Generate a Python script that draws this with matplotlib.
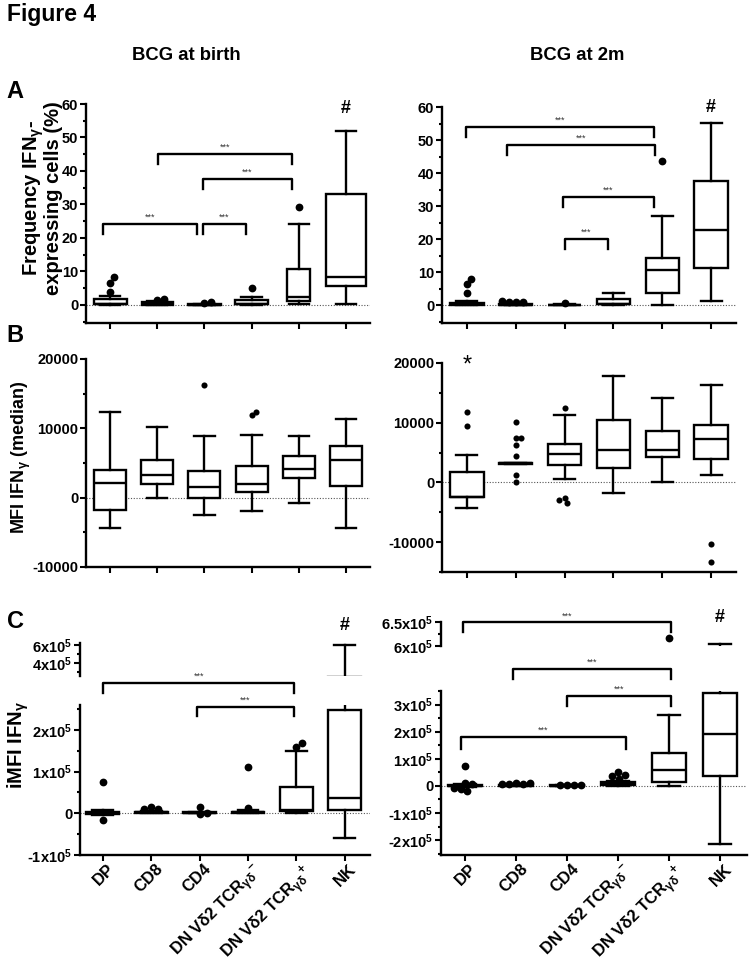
import numpy as np
import matplotlib
matplotlib.use("Agg")
import matplotlib.pyplot as plt
from matplotlib.ticker import MultipleLocator, FixedLocator, FuncFormatter
from matplotlib.transforms import ScaledTranslation

plt.rcParams['font.family'] = ['Liberation Sans', 'DejaVu Sans']
plt.rcParams['font.weight'] = 'bold'
plt.rcParams['axes.unicode_minus'] = False
plt.rcParams['mathtext.fontset'] = 'custom'
plt.rcParams['mathtext.rm'] = 'Liberation Sans:bold'
plt.rcParams['mathtext.it'] = 'Liberation Sans:italic:bold'
plt.rcParams['mathtext.bf'] = 'Liberation Sans:bold'
plt.rcParams['mathtext.sf'] = 'Liberation Sans:bold'
plt.rcParams['mathtext.default'] = 'regular'

cell_labels = ['DP', 'CD8', 'CD4',
               r'DN V$\delta$2 TCR$_{\gamma\delta}{}^{-}$',
               r'DN V$\delta$2 TCR$_{\gamma\delta}{}^{+}$', 'NK']

# box summaries per cell type: whisker low, Q1, median, Q3, whisker high
# A: frequency of IFN-gamma expressing cells (%)
freq_birth = [[0.0, 0.2, 0.2, 1.7, 2.6],
              [0.0, 0.1, 0.4, 0.8, 1.2],
              [0.0, 0.0, 0.1, 0.2, 0.3],
              [0.0, 0.2, 0.2, 1.6, 2.3],
              [0.2, 1.3, 2.5, 10.7, 24.3],
              [0.3, 5.7, 8.3, 33.2, 52.0]]
freq_birth_out = [[3.8, 6.5, 8.3], [1.5, 1.8], [0.5, 0.8], [5.1], [29.2], []]
freq_2m = [[0.0, 0.1, 0.3, 0.8, 1.4],
           [0.0, 0.0, 0.2, 0.5, 0.7],
           [0.0, 0.0, 0.1, 0.2, 0.3],
           [0.1, 0.5, 0.5, 1.9, 3.6],
           [0.0, 3.8, 10.5, 14.4, 27.1],
           [1.2, 11.2, 22.8, 37.6, 55.3]]
freq_2m_out = [[3.8, 6.4, 8.0], [0.9, 1.0, 1.1, 1.2], [0.7], [], [43.8], []]

# B: MFI IFN-gamma (median)
mfi_birth = [[-4400, -1800, 2100, 4000, 12400],
             [0, 1900, 3200, 5500, 10200],
             [-2500, 0, 1600, 3800, 8900],
             [-1900, 800, 2000, 4600, 9100],
             [-700, 2900, 4200, 6000, 8900],
             [-4400, 1700, 5400, 7400, 11400]]
mfi_birth_out = [[], [], [16200], [11900, 12300], [], []]
mfi_2m = [[-4300, -2500, -2500, 1800, 4600],
          [3100, 3100, 3200, 3300, 3300],
          [600, 3000, 4700, 6500, 11300],
          [-1800, 2500, 5500, 10400, 17800],
          [0, 4300, 5500, 8600, 14100],
          [1300, 3900, 7300, 9700, 16300]]
mfi_2m_out = [[9400, 11800], [10200, 7500, 7500, 6200, 4400, 1300, 0],
              [12400, -2600, -3400, -2900], [], [], [-10300, -13400]]

# C: iMFI IFN-gamma
imfi_birth = [[-5000, -2000, 1000, 4000, 7000],
              [0, 1000, 2000, 4000, 6000],
              [500, 1000, 1500, 2000, 2500],
              [0, 1000, 2000, 4000, 7000],
              [0, 5000, 9000, 62000, 149000],
              [-60000, 7000, 37000, 249000, 595000]]
imfi_birth_out = [[75000, -17000], [16000, 10000, 11000], [16000, -1000, 0],
                  [112000, 13000], [160000, 170000], []]
imfi_2m = [[-5000, -2000, 0, 3000, 6000],
           [0, 1000, 2000, 4000, 6000],
           [0, 500, 1000, 1500, 2000],
           [0, 3000, 8000, 13000, 18000],
           [0, 14000, 58000, 121000, 263000],
           [-213000, 35000, 191000, 343000, 605000]]
imfi_2m_out = [[75000, 10000, 8000, -10000, -18000, -8000],
               [9000, 8000, 7000, 8500, 10000],
               [3000, 3500, 2500, 3000],
               [50000, 41000, 35000, 24000],
               [617000], []]

# significance brackets: (x left, x right, height, leg length)
br_freq_birth = [(-0.15, 1.84, 24.1, 2.9), (1.97, 2.88, 24.1, 2.9),
                 (1.97, 3.86, 37.6, 2.9), (1.02, 3.86, 45.0, 2.9)]
br_freq_2m = [(-0.02, 3.83, 54.0, 3.0), (0.82, 3.85, 48.6, 3.0),
              (1.97, 3.83, 32.8, 3.0), (2.0, 2.89, 20.0, 3.0)]
br_imfi_birth = [(0.0, 3.96, 314000, 24000), (1.94, 3.96, 255000, 22000)]
br_imfi_2m = [(-0.04, 4.04, 603000, 36000), (0.94, 4.04, 432000, 39000),
              (2.0, 4.04, 333000, 39000), (-0.08, 3.16, 181000, 44000)]

W, H = 756, 966
fig = plt.figure(figsize=(W / 100, H / 100), dpi=100)
LW = 1.7


def add_axes(x0, y0, x1, y1, xlim, ylim):
    ax = fig.add_axes([x0 / W, 1 - y1 / H, (x1 - x0) / W, (y1 - y0) / H])
    ax.patch.set_alpha(0)
    for s in ('top', 'right'):
        ax.spines[s].set_visible(False)
    for s in ('left', 'bottom'):
        ax.spines[s].set_linewidth(LW)
    ax.tick_params(which='both', direction='out', width=1.5, labelsize=10.5, pad=1.5)
    ax.tick_params(which='major', length=4)
    ax.tick_params(which='minor', length=2.2)
    ax.set_xlim(*xlim)
    ax.set_ylim(*ylim)
    ax.set_xticks(range(6))
    return ax


def swarm(ax, x0, vals, d):
    # beeswarm: push overlapping dots sideways (d = dot diameter in px)
    ux = ax.transData.transform((x0 + 1, 0))[0] - ax.transData.transform((x0, 0))[0]
    placed, xs = [], []
    for v in vals:
        y = ax.transData.transform((x0, v))[1]
        cands = [0.0]
        for a, b in placed:
            dy = abs(y - b)
            if dy < d:
                dx = np.sqrt(d * d - dy * dy)
                cands += [a + dx, a - dx]
        cands.sort(key=abs)
        for c in cands:
            if all((c - a) ** 2 + (y - b) ** 2 >= d * d - 1e-6 for a, b in placed):
                break
        placed.append((c, y))
        xs.append(x0 + c / ux)
    return xs


def draw_boxes(ax, summary, outliers, widths=0.68, dot=5.6):
    stats = [dict(whislo=s[0], q1=s[1], med=s[2], q3=s[3], whishi=s[4], fliers=[])
             for s in summary]
    ax.bxp(stats, positions=range(len(stats)), widths=widths, capwidths=0.43,
           patch_artist=True, showfliers=False, manage_ticks=False,
           boxprops=dict(facecolor='white', edgecolor='black', linewidth=LW),
           medianprops=dict(color='black', linewidth=LW),
           whiskerprops=dict(color='black', linewidth=LW),
           capprops=dict(color='black', linewidth=LW))
    ax.axhline(0, color='#555555', lw=0.8, ls=(0, (1, 1.5)), zorder=0.5)
    for i, vals in enumerate(outliers):
        if vals:
            xs = swarm(ax, i, vals, 0.9 * dot * 100 / 72)
            ax.plot(xs, vals, 'o', color='black', ms=dot, mew=0, zorder=4)


def draw_brackets(ax, brackets):
    for x1, x2, y, leg in brackets:
        ax.plot([x1, x1, x2, x2], [y - leg, y, y, y - leg], color='black', lw=LW,
                clip_on=False, zorder=5)
        ax.annotate('***', xy=((x1 + x2) / 2, y), xytext=(0, 1.5),
                    textcoords='offset points', ha='center', va='bottom',
                    fontsize=6.5, fontweight='normal', color='#333333',
                    annotation_clip=False)


def sci(v, pos=None):
    return '0' if v == 0 else f'{v / 1e5:g}x10$^5$'


def hide_x_labels(ax):
    ax.tick_params(axis='x', labelbottom=False)


def cell_ticklabels(ax):
    ax.set_xticklabels(cell_labels, rotation=45, ha='right', va='top',
                       rotation_mode='anchor', fontsize=12)
    ax.tick_params(axis='x', pad=0.5)
    shift = ScaledTranslation(4 / 100, 0, fig.dpi_scale_trans)
    for lab in ax.get_xticklabels():
        lab.set_transform(lab.get_transform() + shift)


# ---- A: frequency ----
ax = add_axes(86, 104, 370, 323, (-0.51, 5.51), (-5.4, 60))
ax.yaxis.set_major_locator(MultipleLocator(10))
ax.yaxis.set_minor_locator(MultipleLocator(5))
draw_boxes(ax, freq_birth, freq_birth_out, widths=[0.7, 0.66, 0.7, 0.7, 0.48, 0.83])
draw_brackets(ax, br_freq_birth)
hide_x_labels(ax)
ax.text(5, 57.3, '#', ha='center', va='baseline', fontsize=13)

ax = add_axes(442, 107, 736, 323, (-0.51, 5.51), (-5.4, 60))
ax.yaxis.set_major_locator(MultipleLocator(10))
ax.yaxis.set_minor_locator(MultipleLocator(5))
draw_boxes(ax, freq_2m, freq_2m_out)
draw_brackets(ax, br_freq_2m)
hide_x_labels(ax)
ax.text(5, 58.5, '#', ha='center', va='baseline', fontsize=13)

# ---- B: MFI ----
ax = add_axes(86, 359, 370, 567, (-0.51, 5.51), (-10000, 20000))
ax.yaxis.set_major_locator(MultipleLocator(10000))
ax.yaxis.set_minor_locator(MultipleLocator(5000))
draw_boxes(ax, mfi_birth, mfi_birth_out, dot=4.4)
hide_x_labels(ax)

ax = add_axes(442, 363, 736, 572, (-0.51, 5.51), (-15000, 20000))
ax.yaxis.set_major_locator(MultipleLocator(10000))
ax.yaxis.set_minor_locator(MultipleLocator(5000))
draw_boxes(ax, mfi_2m, mfi_2m_out, dot=4.4)
hide_x_labels(ax)
ax.text(0, 18600, '*', ha='center', va='baseline', fontsize=17, fontweight='normal')

# ---- C: iMFI, broken y axes ----
ax = add_axes(80, 643, 370, 676, (-0.47, 5.52), (260000, 620000))
ax.spines['bottom'].set_visible(False)
ax.tick_params(axis='x', bottom=False, labelbottom=False)
ax.yaxis.set_major_locator(FixedLocator([400000, 600000]))
ax.yaxis.set_minor_locator(FixedLocator([300000, 500000]))
ax.yaxis.set_major_formatter(FuncFormatter(sci))
draw_boxes(ax, imfi_birth, imfi_birth_out)

ax = add_axes(80, 705, 370, 855, (-0.47, 5.52), (-100000, 260000))
ax.yaxis.set_major_locator(MultipleLocator(100000))
ax.yaxis.set_minor_locator(MultipleLocator(50000))
ax.yaxis.set_major_formatter(FuncFormatter(sci))
draw_boxes(ax, imfi_birth, imfi_birth_out)
draw_brackets(ax, br_imfi_birth)
cell_ticklabels(ax)
ax.text(5, 439000, '#', ha='center', va='baseline', fontsize=13)

ax = add_axes(441, 622, 747, 646, (-0.47, 5.53), (600000, 650000))
ax.spines['bottom'].set_visible(False)
ax.tick_params(axis='x', bottom=False, labelbottom=False)
ax.yaxis.set_major_locator(FixedLocator([600000, 650000]))
ax.yaxis.set_minor_locator(FixedLocator([625000]))
ax.yaxis.set_major_formatter(FuncFormatter(sci))
draw_boxes(ax, imfi_2m, imfi_2m_out)

ax = add_axes(441, 691, 747, 855, (-0.47, 5.53), (-255000, 350000))
ax.yaxis.set_major_locator(MultipleLocator(100000))
ax.yaxis.set_minor_locator(MultipleLocator(50000))
ax.yaxis.set_major_formatter(FuncFormatter(sci))
draw_boxes(ax, imfi_2m, imfi_2m_out)
draw_brackets(ax, br_imfi_2m)
cell_ticklabels(ax)
ax.text(5, 603000, '#', ha='center', va='baseline', fontsize=13)

# ---- figure texts ----
fig.text(7 / W, 1 - 3 / H, 'Figure 4', ha='left', va='top', fontsize=16.5)
fig.text(186 / W, 1 - 60 / H, 'BCG at birth', ha='center', va='baseline', fontsize=13.3)
fig.text(577 / W, 1 - 60 / H, 'BCG at 2m', ha='center', va='baseline', fontsize=13.3)
for letter, x, y in [('A', 6, 98), ('B', 6, 342), ('C', 7, 628)]:
    fig.text(x / W, 1 - y / H, letter, ha='left', va='baseline', fontsize=17)

fig.text(42 / W, 1 - 198 / H, 'Frequency IFN$_{\\gamma}$-\nexpressing cells (%)',
         rotation=90, ha='center', va='center', fontsize=14.5, linespacing=0.9,
         multialignment='center')
fig.text(21 / W, 1 - 457 / H, 'MFI IFN$_{\\gamma}$ (median)', rotation=90,
         ha='center', va='center', fontsize=13)
fig.text(18 / W, 1 - 745 / H, 'iMFI IFN$_{\\gamma}$', rotation=90,
         ha='center', va='center', fontsize=14.5)

fig.savefig('out.png', dpi=100)
